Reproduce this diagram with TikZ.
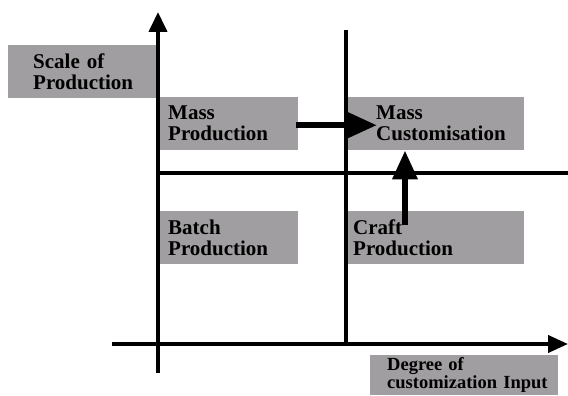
\documentclass[tikz,border=0pt]{standalone}
\usepackage{fontspec}
\setmainfont{Liberation Serif}
\usetikzlibrary{arrows.meta}
\definecolor{boxgray}{RGB}{160,158,160}
\tikzset{
  stage/.style={fill=boxgray, anchor=north west, inner sep=0pt, align=left,
    font=\bfseries\fontsize{21}{21}\selectfont},
  axis/.style={line width=4pt, -{Triangle[width=18pt,length=20pt]}},
  divider/.style={line width=4pt},
  trend/.style={line width=6.5pt, -{Triangle[width=24pt,length=29pt]}}
}
\begin{document}
\begin{tikzpicture}[x=1pt, y=-1pt]
        \useasboundingbox (0,0) rectangle (568,396);

        % Quadrants
        \node[stage, text width=148pt, minimum height=53pt] (scale) at (8,45) {\hspace*{25pt}Scale of\\\hspace*{25pt}Production};
        \node[stage, text width=138pt, minimum height=53pt] (massprod) at (160,97) {\hspace*{8pt}Mass\\\hspace*{8pt}Production};
        \node[stage, text width=178pt, minimum height=53pt] (masscust) at (346,97) {\hspace*{30pt}Mass\\\hspace*{30pt}Customisation};
        \node[stage, text width=138pt, minimum height=53pt] (batch) at (160,211) {\hspace*{8pt}Batch\\\hspace*{8pt}Production};
        \node[stage, text width=178pt, minimum height=53pt] (craft) at (346,211) {\hspace*{7pt}Craft\\\hspace*{7pt}Production};
        \node[stage, text width=188pt, minimum height=40pt, font=\bfseries\fontsize{18.5}{18}\selectfont] (degree) at (370,355) {\hspace*{17pt}Degree of\\\hspace*{17pt}customization Input};

        % Axes
        \coordinate (origin) at (158,344);
        \coordinate (ytop) at (158,12);
        \coordinate (ybottom) at (158,373);
        \coordinate (xleft) at (112,344);
        \coordinate (xright) at (568,344);
        \draw[axis] (ybottom) -- (ytop);
        \draw[axis, -{Triangle[width=17pt,length=20pt]}] (xleft) -- (xright);

        % Dividers
        \coordinate (midtop) at (346,30);
        \coordinate (midleft) at (158,173);
        \draw[divider] (midtop) -- (midtop |- origin);
        \draw[divider] (midleft) -- (midleft -| xright);

        % Shifts
        \draw[trend] ([xshift=-2pt,yshift=-1.5pt]massprod.east) -- ([xshift=31pt,yshift=-1.5pt]masscust.west);
        \draw[trend] ([xshift=59pt,yshift=-14pt]craft.north west) -- ([xshift=59pt]masscust.south west);
\end{tikzpicture}
\end{document}
